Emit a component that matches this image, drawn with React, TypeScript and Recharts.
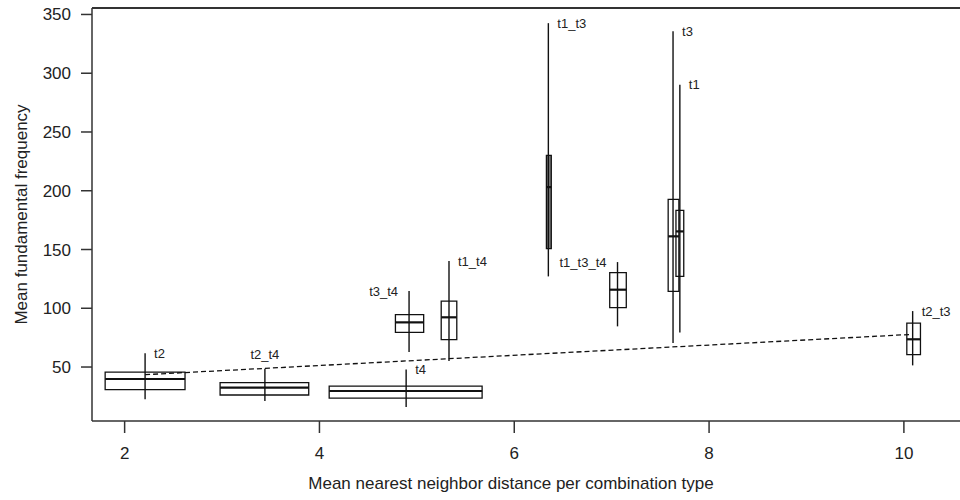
import { ComposedChart, Line, XAxis, YAxis, ReferenceArea, ReferenceLine, ReferenceDot } from 'recharts';

// combination types left to right
const groups = ['t2', 't2_t4', 't4', 't3_t4', 't1_t4', 't1_t3', 't1_t3_t4', 't3', 't1', 't2_t3'];

// nearest neighbor distance (x): centre of the whisker and the box's x extent
const xCenter = [2.21, 3.44, 4.89, 4.92, 5.33, 6.35, 7.06, 7.63, 7.7, 10.09];
const xLow = [1.8, 2.98, 4.1, 4.78, 5.25, 6.33, 6.98, 7.58, 7.66, 10.03];
const xHigh = [2.62, 3.89, 5.67, 5.07, 5.41, 6.38, 7.15, 7.69, 7.74, 10.17];

// fundamental frequency (y)
const yMin = [22.5, 21.1, 16.0, 62.8, 55.1, 127.1, 84.6, 70.4, 79.3, 51.4];
const yQ1 = [30.8, 26.2, 23.6, 79.5, 73.3, 150.7, 100.5, 114.4, 127.1, 60.5];
const yMedian = [39.8, 32.5, 29.6, 88.0, 92.3, 203.1, 115.8, 161.2, 165.4, 73.6];
const yQ3 = [45.7, 36.7, 33.8, 94.6, 106.1, 230.1, 130.3, 192.6, 183.3, 87.4];
const yMax = [61.7, 48.6, 47.8, 114.6, 140.2, 342.6, 139.3, 335.8, 290.2, 97.6];

// dashed trend line
const trendX = [2.21, 10.09];
const trendY = [43.5, 77.8];

const xTicks = [2, 4, 6, 8, 10];
const yTicks = [50, 100, 150, 200, 250, 300, 350];

const X_DOMAIN: [number, number] = [1.665, 10.73];
const Y_DOMAIN: [number, number] = [4.07, 355.5];

const FONT = '"Liberation Sans", Arial, Helvetica, sans-serif';
const INK = '#111';
const TEXT = '#222';

const trend = trendX.map((x, i) => ({ x, y: trendY[i] }));

const labelSide: Record<string, 'left' | 'right' | 'top'> = {
    t3_t4: 'left',
    t1_t3_t4: 'left',
    t2_t4: 'top',
};

export default function App() {
    return (
        <div style={{ position: 'absolute', left: 0, top: 0, width: 960, height: 500, overflow: 'hidden', background: '#fff', fontFamily: FONT }}>
            <ComposedChart width={975} height={500} margin={{ top: 8, right: 0, bottom: 0, left: 0 }} style={{ fontFamily: FONT }}>
                <XAxis
                    dataKey="x"
                    type="number"
                    domain={X_DOMAIN}
                    allowDataOverflow
                    ticks={xTicks}
                    interval={0}
                    height={79}
                    tickSize={12}
                    tickMargin={14}
                    stroke="#333"
                    strokeWidth={1.5}
                    tick={{ fontSize: 17, fill: TEXT }}
                    label={{
                        value: 'Mean nearest neighbor distance per combination type',
                        position: { x: 419, y: 68 },
                        fontSize: 17,
                        fill: TEXT,
                        style: { textAnchor: 'middle' },
                    }}
                />
                <YAxis
                    type="number"
                    domain={Y_DOMAIN}
                    allowDataOverflow
                    ticks={yTicks}
                    interval={0}
                    width={92}
                    tickSize={11}
                    tickMargin={10}
                    stroke="#333"
                    strokeWidth={1.5}
                    tick={{ fontSize: 17, fill: TEXT }}
                    label={{
                        value: 'Mean fundamental frequency',
                        angle: -90,
                        position: 'insideLeft',
                        offset: 21,
                        fontSize: 17,
                        fill: TEXT,
                        style: { textAnchor: 'middle' },
                    }}
                />

                {/* top of the frame */}
                <ReferenceLine y={Y_DOMAIN[1]} stroke="#333" strokeWidth={2} ifOverflow="visible" />

                <Line
                    data={trend}
                    dataKey="y"
                    type="linear"
                    stroke={INK}
                    strokeWidth={1.3}
                    strokeDasharray="5 3"
                    dot={false}
                    activeDot={false}
                    isAnimationActive={false}
                />

                {groups.map((g, i) => (
                    <ReferenceArea
                        key={`box-${g}`}
                        x1={xLow[i]}
                        x2={xHigh[i]}
                        y1={yQ1[i]}
                        y2={yQ3[i]}
                        fill={g === 't1_t3' ? '#7a7a7a' : 'none'}
                        fillOpacity={1}
                        stroke={INK}
                        strokeWidth={1.3}
                        ifOverflow="visible"
                    />
                ))}

                {groups.map((g, i) => (
                    <ReferenceLine
                        key={`wh-${g}`}
                        segment={[{ x: xCenter[i], y: yMin[i] }, { x: xCenter[i], y: yMax[i] }]}
                        stroke={INK}
                        strokeWidth={1.4}
                        ifOverflow="visible"
                    />
                ))}

                {groups.map((g, i) => (
                    <ReferenceLine
                        key={`med-${g}`}
                        segment={[{ x: xLow[i], y: yMedian[i] }, { x: xHigh[i], y: yMedian[i] }]}
                        stroke={INK}
                        strokeWidth={2.2}
                        ifOverflow="visible"
                    />
                ))}

                {groups.map((g, i) => {
                    const side = labelSide[g] ?? 'right';
                    return (
                        <ReferenceDot
                            key={`lab-${g}`}
                            x={xCenter[i]}
                            y={yMax[i]}
                            r={0}
                            fill="none"
                            stroke="none"
                            ifOverflow="visible"
                            label={{
                                value: g,
                                position: side,
                                offset: side === 'top' ? 10 : side === 'left' ? 11 : 9,
                                fontSize: 13,
                                fill: TEXT,
                            }}
                        />
                    );
                })}
            </ComposedChart>
        </div>
    );
}
